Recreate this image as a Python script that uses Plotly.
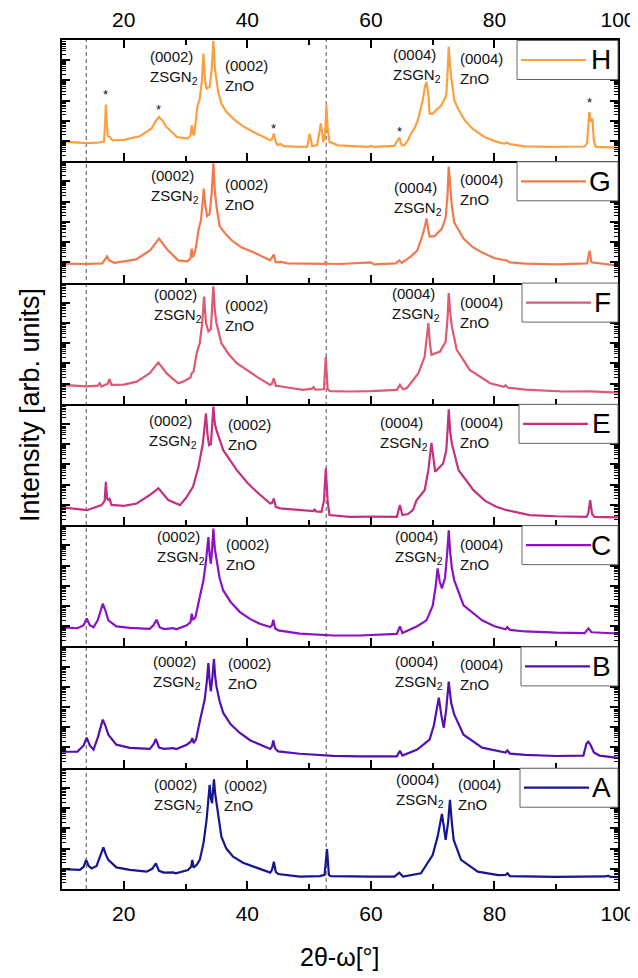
import plotly.graph_objects as go
from plotly.subplots import make_subplots

# ---------------- data (2theta in degrees, log10 of intensity in arb. units) ----------------
samples = ["H", "G", "F", "E", "C", "B", "A"]
colors = ["#FBA040", "#F07A4E", "#DC5A72", "#C4317F", "#8A12C4", "#5511B0", "#161690"]

tt_H = [10, 12, 14, 16, 16.8, 17.0, 17.1, 17.25, 17.4, 17.7, 18.2, 20, 22.6, 24.5, 25.2, 25.7, 26.3, 26.9, 28.6, 30.4,
        30.8, 31.0, 31.2, 31.4, 31.9, 32.3, 32.65, 32.9, 33.15, 33.4, 33.9, 34.25, 34.5, 34.75, 35.0, 35.3, 35.8, 36.6,
        37.7, 39.2, 41.0, 42.5, 43.7, 44.0, 44.3, 44.6, 44.9, 45.4, 45.9, 48.5, 49.7, 50.1, 50.5, 51.3, 51.9, 52.3,
        52.6, 52.8, 53.0, 53.3, 54.7, 59.5, 60.0, 60.5, 63.8, 64.6, 65.0, 65.4, 66.0, 66.5, 67.1, 67.6, 68.1, 68.4,
        68.75, 69.0, 69.3, 69.5, 70.0, 70.7, 71.4, 71.9, 72.2, 72.4, 72.6, 72.8, 73.0, 73.5, 74.2, 75.2, 76.5, 78.4,
        80.5, 81.6, 82.0, 82.5, 84.9, 89.2, 94.6, 95.0, 95.35, 95.6, 95.85, 96.1, 96.4, 100]
li_H = [0.97, 0.95, 0.90, 0.93, 0.98, 2.0, 2.81, 2.0, 1.25, 1.2, 1.04, 1.06, 1.24, 1.62, 2.0, 2.19, 2.0, 1.70, 1.2, 1.12,
        1.3, 1.78, 1.35, 1.29, 2.69, 3.1, 4.0, 5.33, 4.0, 3.6, 3.68, 4.6, 5.96, 4.6, 4.0, 3.4, 2.86, 2.45,
        2.11, 1.75, 1.45, 1.2, 1.04, 1.1, 1.37, 0.95, 0.8, 0.86, 0.75, 0.71, 0.72, 1.37, 0.75, 0.8, 1.87, 0.95,
        1.4, 2.77, 1.6, 0.96, 0.79, 0.71, 0.76, 0.71, 0.76, 1.17, 0.8, 0.79, 1.04, 1.37, 1.65, 2.03, 2.6, 3.02,
        3.7, 3.93, 3.3, 2.36, 2.36, 2.55, 2.77, 3.05, 3.27, 4.3, 5.66, 4.8, 4.17, 3.02, 2.55, 2.03, 1.6, 1.2,
        0.95, 0.88, 0.93, 0.85, 0.74, 0.71, 0.73, 0.9, 2.44, 1.95, 2.11, 1.0, 0.71, 0.68]

tt_G = [10, 14, 16.5, 17.0, 17.3, 17.6, 18.5, 22, 24.3, 25.7, 27, 28.8, 30.3, 30.8, 31.0, 31.2, 31.6, 32.1, 32.5, 32.75,
        32.95, 33.2, 33.5, 33.9, 34.25, 34.5, 34.75, 35.0, 35.5, 36.5, 37.5, 39, 41, 43.7, 44.3, 44.6, 45.5, 46.5, 48,
        50, 52.5, 52.7, 52.9, 55, 60, 60.5, 64.0, 64.6, 65.0, 65.8, 66.5, 67.5, 68.3, 68.75, 69.0, 69.3, 69.5, 70.3,
        71.5, 72.1, 72.4, 72.6, 72.85, 73.1, 73.5, 75, 76.5, 78, 80, 82, 82.5, 85, 90, 95.0, 95.4, 95.7, 100]
li_G = [0.94, 0.92, 0.95, 1.15, 1.29, 1.1, 0.98, 1.15, 1.6, 2.18, 1.65, 1.1, 1.05, 1.2, 1.68, 1.25, 1.6, 2.6, 3.1, 3.9,
        4.65, 3.8, 3.3, 3.4, 4.5, 5.9, 4.5, 3.8, 2.8, 2.4, 2.08, 1.75, 1.5, 1.1, 1.39, 1.0, 1.02, 0.95, 0.94,
        0.93, 0.93, 1.05, 0.93, 0.92, 1.0, 0.9, 0.95, 1.09, 0.98, 1.15, 1.3, 1.58, 2.28, 2.8, 3.17, 2.6, 2.28, 2.3,
        2.67, 3.2, 4.3, 5.74, 4.5, 3.8, 2.97, 2.18, 1.75, 1.49, 1.2, 1.09, 1.0, 0.94, 0.9, 0.95, 1.58, 1.0, 0.84]

tt_F = [10, 14, 15.8, 16.1, 16.4, 17.4, 17.7, 18.0, 20, 22.1, 24.2, 25.6, 26.9, 28.8, 29.6, 30.8, 31.0, 31.3, 31.8, 32.3,
        32.7, 33.0, 33.3, 33.7, 34.1, 34.3, 34.5, 34.75, 35.0, 35.8, 37, 38.3, 40, 41.5, 43.7, 44.0, 44.3, 44.6, 45.5,
        49.0, 50.5, 50.7, 51.0, 52.4, 52.7, 53.0, 53.4, 56.6, 60, 64.2, 64.7, 65.2, 65.8, 66.6, 67.7, 68.7, 69.0,
        69.3, 69.55, 69.8, 71.2, 72.1, 72.4, 72.6, 72.85, 73.1, 73.9, 76.0, 79.3, 81.5, 81.8, 82.2, 85, 91.1, 95.5, 100]
li_F = [0.94, 0.86, 0.9, 1.02, 0.86, 1.0, 1.22, 0.94, 0.95, 1.1, 1.52, 2.05, 1.52, 1.02, 1.1, 1.3, 1.52, 1.6, 2.51, 3.0,
        4.0, 5.31, 4.0, 3.58, 3.7, 4.6, 5.81, 4.6, 4.0, 3.0, 2.45, 2.01, 1.65, 1.35, 0.94, 1.0, 1.27, 0.9, 0.86,
        0.69, 0.75, 0.83, 0.7, 0.72, 2.31, 0.72, 0.63, 0.61, 0.63, 0.69, 0.94, 0.72, 0.77, 1.1, 1.52, 2.34, 3.2,
        4.0, 3.0, 2.43, 2.59, 3.08, 4.2, 5.48, 4.5, 3.83, 2.67, 1.68, 1.02, 0.84, 0.92, 0.8, 0.7, 0.61, 0.62, 0.56]

tt_E = [10, 14, 16.4, 16.9, 17.1, 17.3, 17.5, 17.7, 18.0, 20, 22.1, 24.2, 25.6, 27.2, 29.1, 30.2, 31.2, 32.1, 32.8, 33.05,
        33.3, 33.55, 33.8, 34.1, 34.3, 34.5, 34.75, 35.0, 36.1, 38.3, 40, 41.5, 43.7, 44.0, 44.3, 44.6, 45.3, 49.0,
        50.7, 50.9, 51.1, 52.0, 52.4, 52.7, 53.0, 53.3, 56.6, 60, 64.2, 64.7, 65.1, 66.0, 66.8, 67.4, 68.7, 69.3,
        69.6, 69.8, 70.05, 70.4, 71.7, 72.2, 72.4, 72.6, 72.85, 73.1, 74.2, 76.6, 78.5, 80.3, 82.0, 85.7, 90, 94.9,
        95.2, 95.5, 95.8, 96.2, 100]
li_E = [0.88, 0.74, 0.99, 1.2, 2.14, 1.3, 1.24, 1.3, 1.0, 0.95, 1.07, 1.49, 1.82, 1.24, 0.99, 1.4, 1.9, 2.89, 4.04, 4.8,
        5.53, 4.5, 3.96, 4.0, 4.8, 5.86, 5.0, 4.7, 3.71, 2.72, 2.1, 1.65, 1.07, 1.1, 1.32, 0.9, 0.83, 0.74,
        0.7, 0.8, 0.68, 0.66, 1.2, 2.81, 1.2, 0.5, 0.41, 0.42, 0.41, 0.99, 0.5, 0.55, 0.74, 1.24, 1.73, 2.72,
        3.5, 4.07, 3.5, 2.64, 3.05, 3.7, 4.6, 5.73, 4.6, 4.04, 2.72, 1.73, 1.2, 0.91, 0.74, 0.5, 0.44, 0.41,
        0.6, 1.24, 0.55, 0.41, 0.38]

tt_C = [10, 12.5, 13.5, 14.0, 14.5, 15.1, 15.8, 16.6, 17.0, 17.5, 18.8, 21, 24.2, 24.8, 25.3, 25.8, 26.5, 28.0, 28.5,
        30.2, 30.8, 31.0, 31.2, 31.6, 32.3, 32.9, 33.3, 33.7, 33.9, 34.1, 34.3, 34.5, 34.75, 35.0, 35.5, 36.1, 37.3,
        38.8, 40.5, 42.0, 43.7, 44.0, 44.2, 44.5, 45, 48.5, 53.9, 58.2, 62, 64.2, 64.7, 65.1, 67.5, 69.0, 70.0, 70.5,
        70.8, 71.15, 71.5, 72.0, 72.35, 72.6, 72.85, 73.1, 73.5, 75, 78, 80, 81.8, 82.1, 82.5, 85, 90, 94.6, 95.2,
        95.7, 100]
li_C = [0.94, 0.9, 1.05, 1.39, 1.05, 0.95, 1.3, 2.11, 1.8, 1.29, 0.99, 0.92, 0.87, 1.05, 1.32, 0.95, 0.86, 0.9, 0.85,
        1.04, 1.2, 1.62, 1.3, 1.45, 2.44, 3.27, 4.2, 5.41, 4.5, 4.09, 4.8, 5.83, 4.8, 4.26, 3.4, 2.77, 2.2,
        1.7, 1.35, 1.12, 0.96, 1.05, 1.32, 0.9, 0.79, 0.63, 0.54, 0.54, 0.58, 0.62, 0.99, 0.66, 1.0, 1.29, 2.0, 3.0,
        3.86, 3.2, 2.87, 3.4, 4.6, 5.74, 4.6, 3.9, 3.27, 2.03, 1.29, 1.0, 0.85, 0.95, 0.82, 0.74, 0.68, 0.66, 0.89,
        0.7, 0.64]

tt_B = [10, 12.5, 13.5, 14.0, 14.5, 15.1, 15.8, 16.6, 17.0, 17.5, 18.8, 21, 24.2, 24.8, 25.2, 25.7, 26.5, 28.0, 28.5,
        30.2, 30.9, 31.1, 31.3, 31.7, 32.3, 33.1, 33.45, 33.7, 33.9, 34.1, 34.35, 34.6, 34.8, 35.0, 35.5, 36.1, 37.3,
        38.8, 40.5, 42.0, 43.7, 44.0, 44.2, 44.5, 45, 48.5, 53.9, 58.2, 62, 64.2, 64.7, 65.1, 67.5, 69.5, 70.2, 70.7,
        71.0, 71.4, 71.8, 72.2, 72.6, 73.0, 73.5, 75, 78, 81.8, 82.1, 82.5, 85, 90, 94.4, 94.9, 95.2, 95.6, 96.1, 97,
        100]
li_B = [0.79, 0.8, 1.1, 1.49, 1.1, 0.89, 1.5, 2.38, 2.1, 1.63, 1.14, 0.98, 0.93, 1.15, 1.42, 1.0, 0.93, 0.97, 0.92,
        1.14, 1.3, 1.47, 1.22, 1.4, 2.29, 3.37, 4.3, 5.18, 4.3, 3.78, 4.5, 5.38, 4.5, 4.03, 3.3, 2.71, 2.15,
        1.72, 1.35, 1.14, 0.93, 1.05, 1.35, 0.95, 0.81, 0.69, 0.59, 0.56, 0.55, 0.56, 0.84, 0.6, 0.9, 1.39, 2.1, 3.0,
        3.47, 2.6, 1.98, 2.9, 4.26, 3.2, 2.62, 1.63, 0.99, 0.75, 0.85, 0.7, 0.64, 0.58, 0.6, 1.2, 1.29, 1.1, 0.75, 0.6,
        0.49]

tt_A = [10, 12.9, 13.5, 13.9, 14.3, 14.8, 15.6, 16.2, 16.7, 17.1, 17.5, 18.8, 21, 23.7, 24.6, 25.2, 25.7, 26.5, 28.0,
        28.4, 30.4, 30.9, 31.1, 31.3, 31.8, 32.3, 32.9, 33.4, 33.7, 33.9, 34.1, 34.3, 34.45, 34.6, 34.8, 35.0, 35.8,
        36.6, 37.7, 39.3, 41.0, 43.7, 44.0, 44.3, 44.6, 45, 48.5, 51.7, 52.5, 52.9, 53.2, 53.5, 60.0, 63.8, 64.6,
        65.2, 68.1, 69.2, 70.0, 70.8, 71.2, 71.5, 71.8, 72.1, 72.5, 72.8, 73.1, 73.4, 74.6, 77.3, 80.6, 81.8, 82.1,
        82.5, 90, 98.0, 98.4, 98.8, 100]
li_A = [0.98, 0.95, 1.1, 1.44, 1.15, 1.02, 1.14, 1.6, 2.06, 1.7, 1.44, 1.07, 0.95, 0.86, 1.0, 1.27, 0.9, 0.81, 0.82,
        0.78, 0.94, 1.1, 1.44, 1.06, 1.2, 1.44, 2.26, 3.42, 4.3, 5.15, 4.5, 4.24, 4.9, 5.43, 4.7, 4.24, 2.59,
        2.0, 1.6, 1.3, 1.1, 0.81, 0.95, 1.35, 0.85, 0.74, 0.61, 0.64, 0.7, 1.97, 0.7, 0.64, 0.61, 0.61, 0.81,
        0.62, 0.78, 1.27, 1.68, 2.59, 3.2, 3.71, 3.1, 2.43, 3.3, 4.41, 3.3, 2.43, 1.44, 0.86, 0.69, 0.7, 0.78,
        0.64, 0.6, 0.62, 0.66, 0.6, 0.58]

two_theta = {"H": tt_H, "G": tt_G, "F": tt_F, "E": tt_E, "C": tt_C, "B": tt_B, "A": tt_A}
log_intensity = {"H": li_H, "G": li_G, "F": li_F, "E": li_E, "C": li_C, "B": li_B, "A": li_A}

peak_labels = ["(0002)<br>ZSGN<sub>2</sub>", "(0002)<br>ZnO", "(0004)<br>ZSGN<sub>2</sub>", "(0004)<br>ZnO"]
# label anchor (2theta, log10 intensity) for each sample, left-aligned
label_pos = {
    "H": [(23.9, 4.63), (36.05, 4.26), (63.2, 4.73), (74.1, 4.60)],
    "G": [(24.1, 4.75), (36.05, 4.35), (63.4, 4.15), (74.1, 4.60)],
    "F": [(24.5, 4.86), (36.0, 4.37), (63.1, 4.94), (74.1, 4.54)],
    "E": [(23.7, 4.62), (36.5, 4.50), (61.2, 4.54), (74.1, 4.59)],
    "C": [(25.05, 4.88), (36.2, 4.55), (63.6, 4.88), (74.1, 4.55)],
    "B": [(24.35, 4.71), (36.5, 4.64), (63.6, 4.70), (74.1, 4.60)],
    "A": [(24.5, 4.61), (35.9, 4.61), (63.8, 4.86), (73.8, 4.69)],
}
star_pos = [(17.1, 3.3), (25.7, 2.55), (44.3, 1.6), (64.6, 1.45), (95.4, 2.9)]
dashed_x = [13.93, 52.77]
legend_left_px = {"H": 517, "G": 517, "F": 522, "E": 519, "C": 522, "B": 521, "A": 520}

x_major = [20, 40, 60, 80, 100]
x_minor = [10, 30, 50, 70, 90]
y_major = [10 ** k for k in range(7)]
y_minor = [m * 10 ** k for k in range(6) for m in range(2, 10)]

# ---------------- figure ----------------
n = len(samples)
fig = make_subplots(rows=n, cols=1, vertical_spacing=0)
FONT = "Liberation Sans, Arial, sans-serif"

# page layout (the page body has an 8px default margin, so the figure is 8px smaller and offset)
OFF = 8
PAGE_W, PAGE_H = 638, 978
PL, PR, PT, PB = 62, 618, 40, 889          # plot area in page pixels
W, Hh = PAGE_W - OFF, PAGE_H - OFF
L, T = PL - OFF, PT - OFF
R, B = W - (PR - OFF), Hh - (PB - OFF)
pw, ph = PR - PL, PB - PT
panel_h = ph / n


def px2paper_x(px):
    return (px - PL) / pw


def py2paper_y(py):
    return (PB - py) / ph


for i, s in enumerate(samples):
    r = i + 1
    fig.add_trace(go.Scatter(x=two_theta[s], y=[10 ** v for v in log_intensity[s]], mode="lines",
                             line=dict(color=colors[i], width=2.2), showlegend=False, hoverinfo="skip"),
                  row=r, col=1)
    top = (r == 1)
    bottom = (r == n)
    fig.update_xaxes(row=r, col=1, range=[10, 100], tickmode="array", tickvals=x_major,
                     ticks="inside", ticklen=8, tickwidth=1.5, tickcolor="black",
                     showline=True, linecolor="black", linewidth=2,
                     mirror="allticks" if top else False,
                     side="top" if top else "bottom",
                     ticklabelstandoff=3 if top else 5,
                     automargin=False,
                     showticklabels=top or bottom, showgrid=False, zeroline=False,
                     tickfont=dict(family=FONT, size=21, color="black"),
                     minor=dict(tickmode="array", tickvals=x_minor, ticks="inside", ticklen=5,
                                tickwidth=1.5, tickcolor="black", showgrid=False))
    fig.update_yaxes(row=r, col=1, type="log", range=[0, 6], tickmode="array", tickvals=y_major,
                     ticks="inside", ticklen=8, tickwidth=1.5, tickcolor="black",
                     showline=True, linecolor="black", linewidth=2, mirror="allticks",
                     automargin=False,
                     showticklabels=False, showgrid=False, zeroline=False,
                     minor=dict(tickmode="array", tickvals=y_minor, ticks="inside", ticklen=4,
                                tickwidth=1, tickcolor="black", showgrid=False))

    xa = "x" if r == 1 else f"x{r}"
    ya = "y" if r == 1 else f"y{r}"
    for txt, (lx, ly) in zip(peak_labels, label_pos[s]):
        fig.add_annotation(x=lx, y=ly, xref=xa, yref=ya, text=txt, showarrow=False,
                           xanchor="left", yanchor="middle", align="left",
                           font=dict(family=FONT, size=15, color="#111"))

    # legend box for this panel
    ptop = PT + i * panel_h
    box_l = legend_left_px[s]
    box_t = ptop + 0.5
    box_b = ptop + 39.5
    fig.add_shape(type="rect", xref="paper", yref="paper",
                  x0=px2paper_x(box_l), x1=px2paper_x(PR), y0=py2paper_y(box_b), y1=py2paper_y(box_t),
                  line=dict(color="#666", width=1), fillcolor="white", layer="above")
    ymid = py2paper_y((box_t + box_b) / 2)
    fig.add_shape(type="line", xref="paper", yref="paper",
                  x0=px2paper_x(box_l + 4), x1=px2paper_x(box_l + 69), y0=ymid, y1=ymid,
                  line=dict(color=colors[i], width=2.2), layer="above")
    fig.add_annotation(x=px2paper_x(613), y=ymid, xref="paper", yref="paper", text=s, showarrow=False,
                       xanchor="right", yanchor="middle", font=dict(family=FONT, size=28, color="black"))

for sx, sy in star_pos:
    fig.add_annotation(x=sx, y=sy, xref="x", yref="y", text="*", showarrow=False,
                       xanchor="center", yanchor="middle", font=dict(family=FONT, size=13, color="#111"))

for dx in dashed_x:
    fig.add_shape(type="line", xref="x7", yref="paper", x0=dx, x1=dx, y0=0, y1=1,
                  line=dict(color="#555", width=1, dash="4px,3px"), layer="below")

fig.add_annotation(x=0.5, y=py2paper_y(957), xref="paper", yref="paper", text="2θ-ω[°]",
                   showarrow=False, xanchor="center", yanchor="middle",
                   font=dict(family=FONT, size=25, color="black"))
fig.add_annotation(x=px2paper_x(30), y=py2paper_y(405), xref="paper", yref="paper",
                   text="Intensity [arb. units]", textangle=-90, showarrow=False,
                   xanchor="center", yanchor="middle", font=dict(family=FONT, size=27, color="black"))

fig.update_layout(width=W, height=Hh, margin=dict(l=L, r=R, t=T, b=B),
                  paper_bgcolor="white", plot_bgcolor="rgba(0,0,0,0)", showlegend=False)

fig.write_html("out.html")
